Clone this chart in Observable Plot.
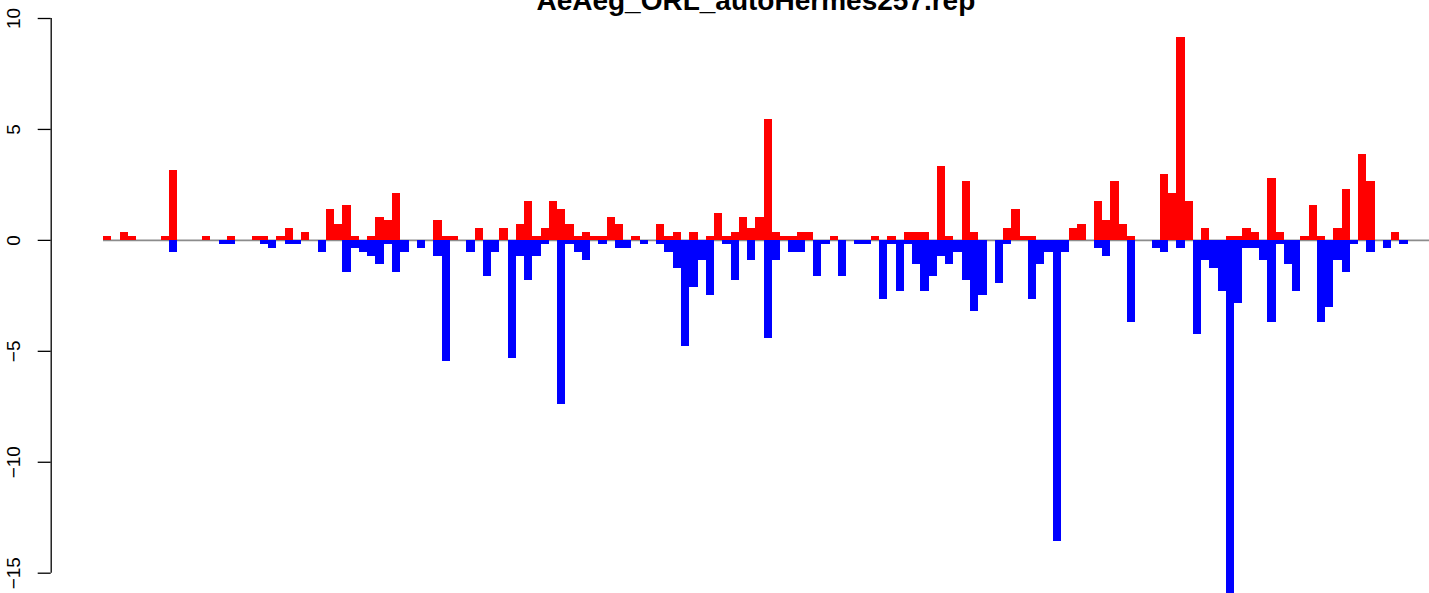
<!DOCTYPE html>
<html>
<head>
<meta charset="utf-8">
<script src="https://cdn.jsdelivr.net/npm/d3@7"></script>
<script src="https://cdn.jsdelivr.net/npm/@observablehq/plot@0.6"></script>
<style>
  html, body { margin: 0; padding: 0; background: #fff; }
  svg { display: block; }
</style>
</head>
<body>
<div id="chart"></div>
<script>
const title = "AeAeg_ORL_autoHermes257.rep";

// positive (red) values per position, index 0..157
const redValues = [
  0.18, 0, 0.36, 0.18, 0, 0, 0, 0.18, 3.15, 0,
  0, 0, 0.18, 0, 0, 0.18, 0, 0, 0.18, 0.18,
  0, 0.18, 0.54, 0, 0.36, 0, 0, 1.40, 0.72, 1.58,
  0.18, 0, 0.18, 1.04, 0.9, 2.12, 0, 0, 0, 0,
  0.9, 0.18, 0.18, 0, 0, 0.54, 0, 0, 0.54, 0,
  0.72, 1.76, 0.18, 0.54, 1.76, 1.40, 0.72, 0.18, 0.36, 0.18,
  0.18, 1.04, 0.72, 0, 0.18, 0, 0, 0.72, 0.18, 0.36,
  0, 0.36, 0, 0.18, 1.22, 0.18, 0.36, 1.04, 0.54, 1.04,
  5.45, 0.36, 0.18, 0.18, 0.36, 0.36, 0, 0, 0.18, 0,
  0, 0, 0, 0.18, 0, 0.18, 0, 0.36, 0.36, 0.36,
  0, 3.33, 0.18, 0, 2.66, 0.36, 0, 0, 0, 0.54,
  1.40, 0.18, 0.18, 0, 0, 0, 0, 0.54, 0.72, 0,
  1.76, 0.9, 2.66, 0.72, 0.18, 0, 0, 0, 2.97, 2.12,
  9.14, 1.76, 0, 0.54, 0, 0, 0.18, 0.18, 0.54, 0.36,
  0, 2.79, 0.36, 0, 0, 0.18, 1.58, 0.18, 0, 0.54,
  2.3, 0, 3.87, 2.66, 0, 0, 0.36, 0
];

// negative (blue) values per position, as magnitudes below zero
const blueValues = [
  0, 0, 0, 0, 0, 0, 0, 0, 0.54, 0,
  0, 0, 0, 0, 0.18, 0.18, 0, 0, 0, 0.18,
  0.36, 0, 0.18, 0.18, 0, 0, 0.54, 0, 0, 1.44,
  0.36, 0.54, 0.72, 1.08, 0.18, 1.44, 0.54, 0, 0.36, 0,
  0.72, 5.45, 0, 0, 0.54, 0, 1.62, 0.54, 0, 5.34,
  0.72, 1.8, 0.72, 0.18, 0, 7.41, 0.18, 0.54, 0.9, 0,
  0.18, 0, 0.36, 0.36, 0, 0.18, 0, 0.18, 0.54, 1.26,
  4.77, 2.12, 0.9, 2.48, 0, 0.18, 1.8, 0, 0.9, 0,
  4.41, 0.9, 0, 0.54, 0.54, 0, 1.62, 0.18, 0, 1.62,
  0, 0.18, 0.18, 0, 2.66, 0.18, 2.3, 0.18, 1.08, 2.3,
  1.62, 0.72, 1.08, 0.54, 1.8, 3.2, 2.48, 0, 1.94, 0.18,
  0, 0, 2.66, 1.08, 0.54, 13.58, 0.54, 0, 0, 0,
  0.36, 0.72, 0, 0, 3.7, 0, 0, 0.36, 0.54, 0,
  0.36, 0, 4.23, 0.9, 1.26, 2.3, 15.95, 2.84, 0.36, 0.36,
  0.9, 3.69, 0.18, 1.08, 2.3, 0, 0, 3.69, 3.02, 0.9,
  1.44, 0.18, 0, 0.54, 0, 0.36, 0, 0.18
];

const yTicks = [-15, -10, -5, 0, 5, 10];
const xDomain = [-6.334, 160.59];

const red = redValues.map((v, i) => ({i, v})).filter(d => d.v > 0);
const blue = blueValues.map((v, i) => ({i, v: -v})).filter(d => d.v < 0);
const fmt = d => d < 0 ? "\u2212" + Math.abs(d) : String(d);

const chart = Plot.plot({
  width: 1429,
  height: 593,
  marginLeft: 50.7,
  marginRight: 0,
  marginTop: 18,
  marginBottom: 20.3,
  x: {type: "linear", domain: xDomain, axis: null},
  y: {domain: [-15, 10], axis: null},
  style: {background: "white", fontFamily: "'Liberation Sans', Arial, Helvetica, sans-serif", color: "black"},
  marks: [
    Plot.ruleY([0], {x1: 0, x2: xDomain[1], stroke: "#8c8c8c", strokeWidth: 1.6}),
    Plot.rect(red, {x1: "i", x2: d => d.i + 1, y1: 0, y2: "v", fill: "#ff0000", inset: 0, shapeRendering: "crispEdges"}),
    Plot.rect(blue, {x1: "i", x2: d => d.i + 1, y1: 0, y2: "v", fill: "#0000ff", inset: 0, shapeRendering: "crispEdges"}),
    Plot.ruleX([xDomain[0]], {y1: yTicks[0], y2: yTicks[yTicks.length - 1], stroke: "black", strokeWidth: 1.3}),
    Plot.ruleY(yTicks, {x1: xDomain[0], x2: xDomain[0], insetLeft: -13, stroke: "black", strokeWidth: 1.3}),
    Plot.text(yTicks, {y: d => d, frameAnchor: "left", text: fmt, rotate: -90, dx: -36.8, fontSize: 19, lineAnchor: "middle", textAnchor: "middle", fill: "black"}),
    Plot.text([title], {frameAnchor: "top", text: d => d, dx: 15.5, dy: -17, fontSize: 28, fontWeight: "bold", lineAnchor: "middle", fill: "black"})
  ]
});
document.getElementById("chart").appendChild(chart);
</script>
</body>
</html>
